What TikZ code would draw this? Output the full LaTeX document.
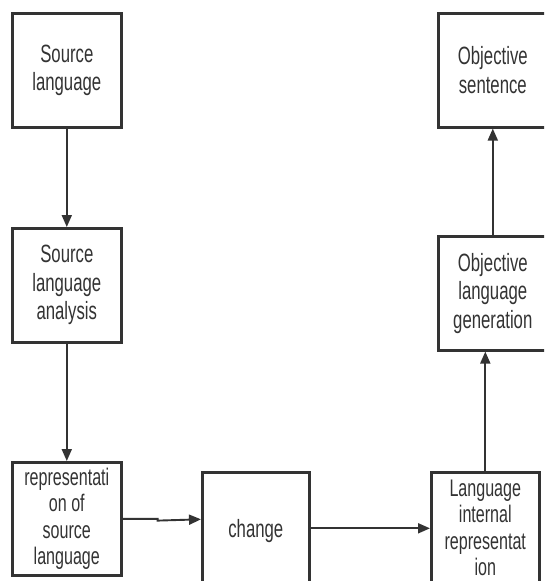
\documentclass[tikz,border=0pt]{standalone}
\usepackage{fontspec}
\setmainfont[FakeStretch=0.67]{Liberation Sans}
\usetikzlibrary{arrows.meta}
\definecolor{ink}{HTML}{333333}
\begin{document}
\begin{tikzpicture}[x=1pt,y=-1pt,
  box/.style={draw=ink,line width=2.6pt,anchor=north west,inner sep=0pt,
    align=center,text=ink,font=\fontsize{25}{28.5}\selectfont},
  conn/.style={draw=ink,line width=1.9pt,-{Triangle[length=12pt,width=10pt]}}]
\useasboundingbox (0,0) rectangle (544,581);
\clip (0,0) rectangle (544,581);
\node[box,minimum width=109pt,minimum height=114pt] (sl) at (11,12) {Source\\language};
\node[box,minimum width=109pt,minimum height=114pt] (sla) at (11,227) {Source\\language\\analysis};
\node[box,minimum width=109pt,minimum height=113pt,font=\fontsize{24}{26.5}\selectfont] (rsl) at (11,461) {representati\\on of\\source\\language};
\node[box,minimum width=107pt,minimum height=117pt] (chg) at (201,471) {change};
\node[box,minimum width=108pt,minimum height=117pt,font=\fontsize{24}{26.5}\selectfont] (lir) at (430,471) {\raisebox{5pt}{\begin{tabular}{@{}c@{}}Language\\internal\\representat\\ion\end{tabular}}};
\node[box,minimum width=109pt,minimum height=114pt] (os) at (437,12) {Objective\\sentence};
\node[box,minimum width=109pt,minimum height=114pt] (olg) at (437,235) {Objective\\language\\generation};
\draw[conn] (sl) -- (sla);
\draw[conn] (sla) -- (rsl);
\draw[conn] (rsl.east) -- ++(35,0) -- ++(0,1.8) -- (chg.west |- 0,519.3);
\draw[conn] ([yshift=2.5pt]chg.east) -- ([yshift=2.5pt]chg.east -| lir.west);
\draw[conn] (lir.north) -- (lir.north |- olg.south);
\draw[conn] (olg) -- (os);
\end{tikzpicture}
\end{document}
